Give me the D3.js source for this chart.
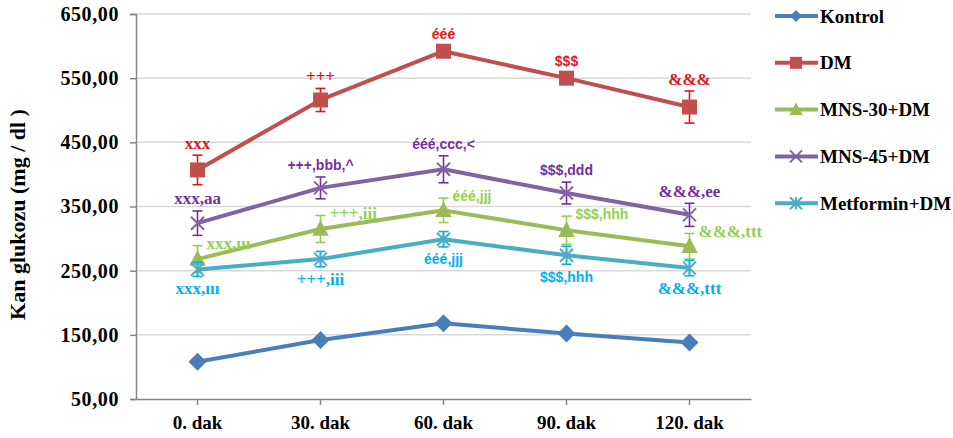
<!DOCTYPE html>
<html>
<head>
<meta charset="utf-8">
<script src="https://cdn.jsdelivr.net/npm/d3@7/dist/d3.min.js"></script>
<style>
  html, body { margin: 0; padding: 0; background: #fff; }
  svg { display: block; }
  .serif { font-family: "Liberation Serif", "Times New Roman", serif; font-weight: bold; }
  .sans { font-family: "Liberation Sans", Arial, sans-serif; font-weight: bold; }
</style>
</head>
<body>
<svg id="chart" width="953" height="438"></svg>
<script>
// Time points (minutes after glucose load)
const categories = ["0. dak", "30. dak", "60. dak", "90. dak", "120. dak"];

// Blood glucose, mg/dl (mean) and error (SEM) per group
const kontrol    = [108, 142, 168, 152, 138];
const kontrolErr = [0, 0, 0, 0, 0];
const dm         = [407, 516, 592, 550, 505];
const dmErr      = [23, 18, 8, 8, 25];
const mns30      = [268, 315, 344, 313, 288];
const mns30Err   = [21, 21, 19, 22, 20];
const mns45      = [324, 379, 408, 371, 337];
const mns45Err   = [19, 17, 21, 17, 18];
const metformin  = [252, 268, 299, 274, 254];
const metforminErr = [11, 12, 12, 14, 12];

// Significance marks per time point
const dmMarks        = ["xxx", "+++", "ééé", "$$$", "&&&"];
const mns30Marks     = ["xxx,ııı", "+++,iii", "ééé,jjj", "$$$,hhh", "&&&,ttt"];
const mns45Marks     = ["xxx,aa", "+++,bbb,^", "ééé,ccc,<", "$$$,ddd", "&&&,ee"];
const metforminMarks = ["xxx,ııı", "+++,iii", "ééé,jjj", "$$$,hhh", "&&&,ttt"];

// Y axis ticks
const yTicks = [50, 150, 250, 350, 450, 550, 650];
const yTickLabels = ["50,00", "150,00", "250,00", "350,00", "450,00", "550,00", "650,00"];
const yTitle = "Kan glukozu (mg / dl )";

const seriesNames = ["Kontrol", "DM", "MNS-30+DM", "MNS-45+DM", "Metformin+DM"];

const series = [
  { name: seriesNames[0], values: kontrol,   err: kontrolErr,   marks: null,
    line: "#4a7ebb", ink: "#4a7ebb", symbol: "diamond", place: "none" },
  { name: seriesNames[1], values: dm,        err: dmErr,        marks: dmMarks,
    line: "#c0504d", ink: "#e0161c", symbol: "square", place: "above" },
  { name: seriesNames[2], values: mns30,     err: mns30Err,     marks: mns30Marks,
    line: "#9bbb59", ink: "#92d050", symbol: "triangle", place: "right" },
  { name: seriesNames[3], values: mns45,     err: mns45Err,     marks: mns45Marks,
    line: "#8064a2", ink: "#7030a0", symbol: "x", place: "above" },
  { name: seriesNames[4], values: metformin, err: metforminErr, marks: metforminMarks,
    line: "#4bacc6", ink: "#00b0f0", symbol: "star", place: "below" }
];

const svg = d3.select("#chart");
const plot = { left: 136, right: 751, top: 14, bottom: 399 };

const x = d3.scaleBand().domain(categories).range([plot.left, plot.right]);
const cx = c => x(c) + x.bandwidth() / 2;
const y = d3.scaleLinear().domain([50, 650]).range([plot.bottom, plot.top]);

// Horizontal gridlines
svg.append("g")
  .selectAll("line")
  .data(yTicks.slice(1))
  .join("line")
  .attr("x1", plot.left).attr("x2", plot.right)
  .attr("y1", d => y(d)).attr("y2", d => y(d))
  .attr("stroke", "#d9d9d9").attr("stroke-width", 1.5);

// Y axis
const yAxis = svg.append("g")
  .attr("transform", `translate(${plot.left},0)`)
  .call(d3.axisLeft(y).tickValues(yTicks).tickSize(6).tickPadding(11)
    .tickFormat((d, i) => yTickLabels[i]));
yAxis.select(".domain").attr("stroke", "#868686").attr("stroke-width", 1.5);
yAxis.selectAll(".tick line").attr("stroke", "#868686").attr("stroke-width", 1.5);
yAxis.selectAll(".tick text")
  .attr("class", "serif").attr("font-size", 20).attr("letter-spacing", 0.6).attr("fill", "#000");

// X axis
const xAxis = svg.append("g")
  .attr("transform", `translate(0,${plot.bottom})`)
  .call(d3.axisBottom(x).tickSize(6).tickPadding(11).tickSizeOuter(0));
xAxis.select(".domain").attr("stroke", "#868686").attr("stroke-width", 1.5);
xAxis.selectAll(".tick line").attr("stroke", "#868686").attr("stroke-width", 1.5);
xAxis.selectAll(".tick text")
  .attr("class", "serif").attr("font-size", 19).attr("fill", "#000");

// Y axis title
svg.append("text")
  .attr("class", "serif")
  .attr("font-size", 22)
  .attr("text-anchor", "middle")
  .attr("transform", `translate(25,${(plot.top + plot.bottom) / 2 + 8}) rotate(-90)`)
  .text(yTitle);

// Marker shapes
function drawMarker(g, symbol, color, size) {
  const s = size;
  if (symbol === "diamond") {
    g.append("path").attr("d", `M0,${-s * 0.6}L${s * 0.6},0L0,${s * 0.6}L${-s * 0.6},0Z`).attr("fill", color);
  } else if (symbol === "square") {
    g.append("rect").attr("x", -s / 2).attr("y", -s / 2).attr("width", s).attr("height", s).attr("fill", color);
  } else if (symbol === "triangle") {
    g.append("path").attr("d", `M0,${-s * 0.6}L${s * 0.55},${s * 0.45}L${-s * 0.55},${s * 0.45}Z`).attr("fill", color);
  } else if (symbol === "x") {
    const h = s / 2;
    g.append("path").attr("d", `M${-h},${-h}L${h},${h}M${-h},${h}L${h},${-h}`)
      .attr("stroke", color).attr("stroke-width", 2).attr("fill", "none");
  } else if (symbol === "star") {
    const h = s / 2;
    g.append("path").attr("d", `M${-h},${-h}L${h},${h}M${-h},${h}L${h},${-h}M0,${-h}L0,${h}`)
      .attr("stroke", color).attr("stroke-width", 2).attr("fill", "none");
  }
}

const line = d3.line().x((d, i) => cx(categories[i])).y(d => y(d));

series.forEach(s => {
  const g = svg.append("g");
  g.append("path")
    .attr("d", line(s.values))
    .attr("fill", "none")
    .attr("stroke", s.line)
    .attr("stroke-width", 4)
    .attr("stroke-linejoin", "round");

  // Error bars
  s.values.forEach((v, i) => {
    const e = s.err[i];
    if (!e) return;
    const px = cx(categories[i]);
    const eb = g.append("g").attr("stroke", s.ink).attr("stroke-width", 1.6);
    eb.append("line").attr("x1", px).attr("x2", px).attr("y1", y(v - e)).attr("y2", y(v + e));
    eb.append("line").attr("x1", px - 5).attr("x2", px + 5).attr("y1", y(v + e)).attr("y2", y(v + e));
    eb.append("line").attr("x1", px - 5).attr("x2", px + 5).attr("y1", y(v - e)).attr("y2", y(v - e));
  });

  // Markers
  s.values.forEach((v, i) => {
    const m = g.append("g").attr("transform", `translate(${cx(categories[i])},${y(v)})`);
    const size = (s.symbol === "x" || s.symbol === "star") ? 13 : 15;
    drawMarker(m, s.symbol, s.line, size);
  });

  // Significance marks
  if (s.marks) {
    s.marks.forEach((t, i) => {
      const v = s.values[i], e = s.err[i];
      const px = cx(categories[i]);
      const sans = /[é$^<]/.test(t);
      const txt = g.append("text")
        .attr("class", sans ? "sans" : "serif")
        .attr("font-size", sans ? 14 : 17)
        .attr("fill", s.ink)
        .attr("dominant-baseline", "central")
        .text(t);
      if (s.place === "above") {
        txt.attr("x", px).attr("y", y(v + e) - 12).attr("text-anchor", "middle");
      } else if (s.place === "below") {
        txt.attr("x", px).attr("y", y(v - e) + 12.5).attr("text-anchor", "middle");
      } else if (s.place === "right") {
        txt.attr("x", px + 9).attr("y", y(v + e) - 2).attr("text-anchor", "start");
      }
    });
  }
});

// Legend
const legend = svg.append("g");
series.forEach((s, i) => {
  const ly = 16 + i * 46.8;
  const lg = legend.append("g");
  lg.append("line").attr("x1", 775).attr("x2", 818).attr("y1", ly).attr("y2", ly)
    .attr("stroke", s.line).attr("stroke-width", 4);
  const m = lg.append("g").attr("transform", `translate(796,${ly})`);
  drawMarker(m, s.symbol, s.line, s.symbol === "diamond" ? 10 : 12);
  lg.append("text")
    .attr("class", "serif").attr("font-size", 19)
    .attr("x", 820).attr("y", ly).attr("dominant-baseline", "central")
    .attr("fill", "#000")
    .text(s.name);
});
</script>
</body>
</html>
